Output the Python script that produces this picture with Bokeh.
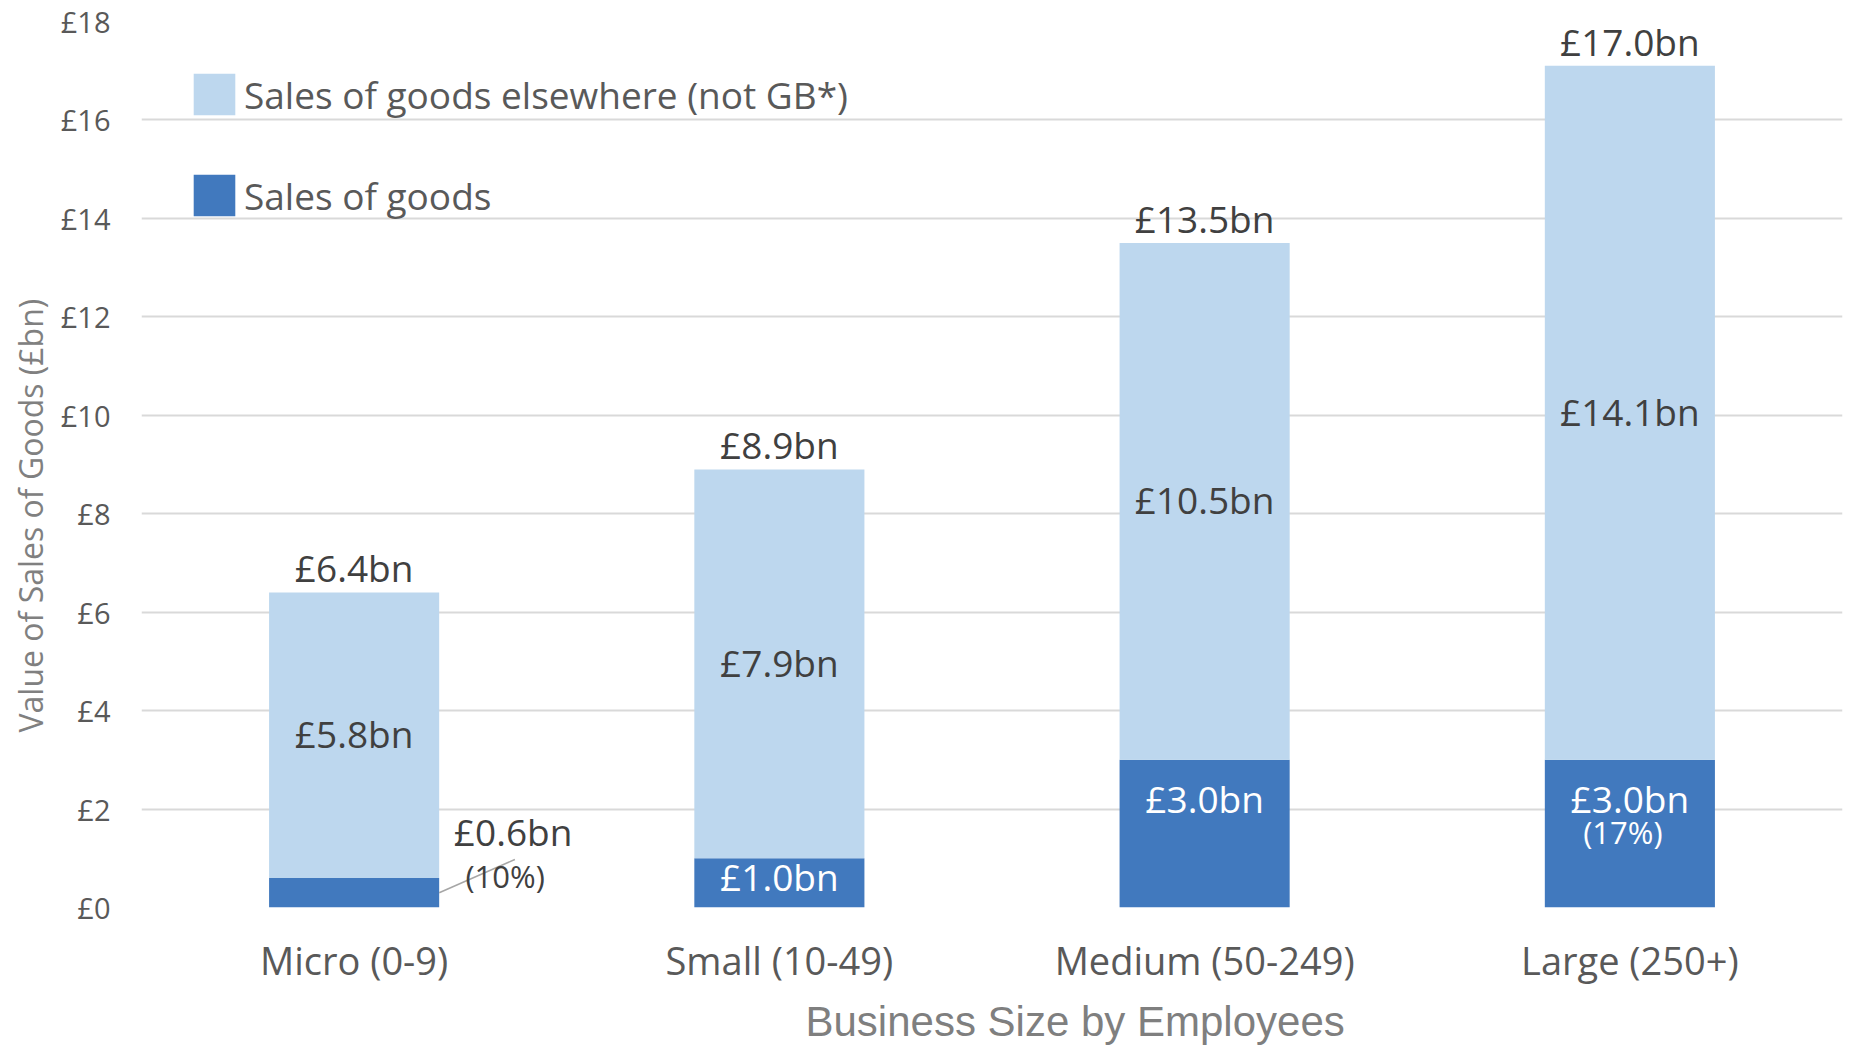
from bokeh.plotting import figure
from bokeh.models import (ColumnDataSource, FactorRange, Range1d, LabelSet, Title,
                          Legend, LegendItem, FixedTicker, PrintfTickFormatter)
from bokeh.core.properties import value
from bokeh.embed import file_html
from bokeh.resources import INLINE

# ---------------- data ----------------
categories = ["Micro (0-9)", "Small (10-49)", "Medium (50-249)", "Large (250+)"]
goods = [0.6, 1.0, 3.0, 3.0]
elsewhere = [5.8, 7.9, 10.5, 14.1]
total_labels = ["£6.4bn", "£8.9bn", "£13.5bn", "£17.0bn"]
elsewhere_labels = ["£5.8bn", "£7.9bn", "£10.5bn", "£14.1bn"]
goods_labels = ["£0.6bn", "£1.0bn", "£3.0bn", "£3.0bn"]
goods_share = ["(10%)", "", "", "(17%)"]
series_names = ["Sales of goods", "Sales of goods elsewhere (not GB*)"]
y_ticks = [0, 2, 4, 6, 8, 10, 12, 14, 16, 18]
x_title = "Business Size by Employees"
y_title = "Value of Sales of Goods (£bn)"

# ---------------- style ----------------
DARK = "#4179be"
LIGHT = "#bdd7ee"
GRID = "#d9d9d9"
TXT = "#404040"
AX = "#595959"
TITLE = "#808080"
FONT = "Open Sans"
BAR_W = 0.4

W, H = 1852, 1052
p = figure(x_range=FactorRange(factors=categories, range_padding=0),
           y_range=Range1d(0, 18), width=W, height=H, title=None,
           output_backend="svg", toolbar_location=None,
           min_border_left=139, min_border_right=10, min_border_top=21,
           min_border_bottom=145)
p.outline_line_color = None
p.background_fill_color = "white"
p.border_fill_color = "white"

src = ColumnDataSource(dict(
    cat=categories, goods=goods, elsewhere=elsewhere,
    top=[g + e for g, e in zip(goods, elsewhere)],
    mid_else=[g + e / 2 for g, e in zip(goods, elsewhere)],
    mid_goods=[g / 2 for g in goods],
    total_label=total_labels, else_label=elsewhere_labels,
    goods_label=goods_labels, share=goods_share,
))

rs = p.vbar_stack(["goods", "elsewhere"], x="cat", width=BAR_W, source=src,
                  fill_color=[DARK, LIGHT], line_color=None)

# axes
p.yaxis.ticker = FixedTicker(ticks=y_ticks)
p.yaxis.formatter = PrintfTickFormatter(format="£%d")
p.yaxis.major_label_text_font = FONT
p.yaxis.major_label_text_font_size = "29px"
p.yaxis.major_label_text_color = AX
p.yaxis.major_label_standoff = 25
p.yaxis.axis_line_color = None
p.yaxis.major_tick_line_color = None
p.yaxis.minor_tick_line_color = None

p.xaxis.major_label_text_font = FONT
p.xaxis.major_label_text_font_size = "38px"
p.xaxis.major_label_text_color = AX
p.xaxis.major_label_standoff = 20
p.xaxis.axis_line_color = None
p.xaxis.major_tick_line_color = None
p.xaxis.minor_tick_line_color = None

p.xgrid.grid_line_color = None
p.ygrid.grid_line_color = GRID
p.ygrid.grid_line_width = 2

# ---------------- data labels ----------------
def sub(idx):
    d = src.data
    return ColumnDataSource({k: [d[k][i] for i in idx] for k in d})

common = dict(text_font=value(FONT), text_align="center", text_baseline="alphabetic")

p.add_layout(LabelSet(x="cat", y="top", text="total_label", source=src, y_offset=10,
                      text_font_size="37px", text_color=TXT, **common))
p.add_layout(LabelSet(x="cat", y="mid_else", text="else_label", source=src, y_offset=-13,
                      text_font_size="37px", text_color=TXT, **common))

# small: goods label centred in its segment
p.add_layout(LabelSet(x="cat", y="mid_goods", text="goods_label", source=sub([1]), y_offset=-8,
                      text_font_size="37px", text_color="white", **common))
# medium / large: goods label near top of the segment
p.add_layout(LabelSet(x="cat", y="goods", text="goods_label", source=sub([2, 3]), y_offset=-53,
                      text_font_size="37px", text_color="white", **common))
p.add_layout(LabelSet(x="cat", y="goods", text="share", source=sub([3]), y_offset=-84, x_offset=-7,
                      text_font_size="31px", text_color="white", **common))
# micro: outside with leader line
p.add_layout(LabelSet(x="cat", y="goods", text="goods_label", source=sub([0]), y_offset=32, x_offset=159,
                      text_font_size="37px", text_color=TXT, **common))
p.add_layout(LabelSet(x="cat", y="goods", text="share", source=sub([0]), y_offset=-10, x_offset=151,
                      text_font_size="31px", text_color=TXT, **common))
lx0 = 0.5 + BAR_W / 2
p.segment(x0=[lx0], y0=[goods[0] / 2], x1=[lx0 + 0.178], y1=[goods[0] / 2 + 0.675],
          line_color="#a6a6a6", line_width=1.5)

# ---------------- legend ----------------
legend = Legend(items=[LegendItem(label=series_names[1], renderers=[rs[1]]),
                       LegendItem(label=series_names[0], renderers=[rs[0]])],
                location="top_left", margin=47, padding=0, spacing=49,
                glyph_width=52, glyph_height=52, label_height=52, label_standoff=4,
                label_text_font=FONT, label_text_font_size="37px",
                label_text_color=AX, border_line_color=None,
                background_fill_alpha=0)
p.add_layout(legend)

# ---------------- axis titles ----------------
p.add_layout(Title(text=y_title, align="left", offset=175, standoff=12,
                   text_font=FONT, text_font_size="32px", text_font_style="normal",
                   text_color=TITLE), "left")
p.add_layout(Title(text=x_title, align="left", offset=664, standoff=15,
                   text_font="Liberation Sans", text_font_size="42px",
                   text_font_style="normal", text_color="#7f7f7f"), "below")

open("out.html", "w").write(file_html(p, INLINE))
